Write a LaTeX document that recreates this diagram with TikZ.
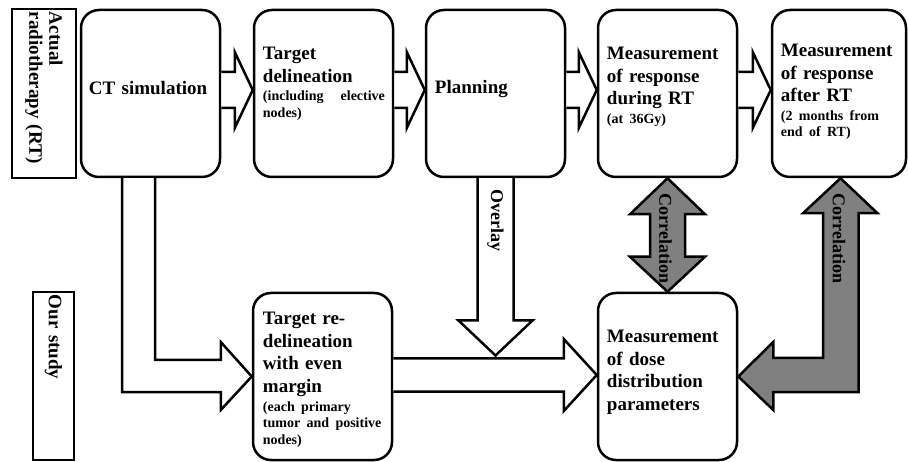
\documentclass[tikz,border=0pt]{standalone}
\usepackage{fontspec}
\setmainfont{Liberation Serif}
\usetikzlibrary{calc}

\newcommand{\notefont}{\par\vspace{2pt}\fontsize{14}{16.5}\selectfont}

\tikzset{
  stage/.style={draw, line width=2.5pt, rounded corners=18pt, minimum width=139pt, minimum height=167pt, inner sep=0pt},
  sidebox/.style={draw, line width=2.5pt, rotate=-90, inner sep=3pt, align=left, font=\bfseries\fontsize{19}{20}\selectfont},
  stagetext/.style={anchor=north west, inner sep=0pt, text width=122pt, align=left, font=\bfseries\fontsize{19}{22.8}\selectfont},
  whitearrow/.style={draw, line width=2.5pt, fill=white, line join=miter},
  grayarrow/.style={whitearrow, fill=gray},
  arrowlabel/.style={rotate=-90, anchor=west, inner sep=0pt, font=\bfseries\fontsize{18}{20}\selectfont}
}

\begin{document}
\begin{tikzpicture}[x=1pt, y=-1pt]
    \useasboundingbox (0,0) rectangle (908,462);

    % Row labels
    \node[sidebox, minimum width=169pt, minimum height=64pt, text width=163pt] (rtlabel) at (44,93.5) {Actual\\radiotherapy (RT)};
    \node[sidebox, minimum width=168pt, minimum height=41pt, text width=162pt] (studylabel) at (53.5,376) {Our study};

    % Stages of the actual radiotherapy
    \node[stage] (ct) at (150.5,93.5) {};
    \node[stage] (td) at (323.5,93.5) {};
    \node[stage] (plan) at (495.5,93.5) {};
    \node[stage] (mdur) at (667.5,93.5) {};
    \node[stage, minimum width=134pt] (maft) at (839,93.5) {};

    % Stages of our study
    \node[stage] (trd) at (322.5,376.5) {};
    \node[stage] (mdose) at (667.5,376.5) {};

    % Texts in the stages
    \node[stagetext] (ct-txt) at ([shift={(9,72)}]ct.north west) {CT simulation};
    \node[stagetext] (td-txt) at ([shift={(10,38)}]td.north west) {Target\\delineation\notefont (including\hfill elective\\nodes)\par};
    \node[stagetext] (plan-txt) at ([shift={(10,71)}]plan.north west) {Planning};
    \node[stagetext] (mdur-txt) at ([shift={(10,38)}]mdur.north west) {Measurement\\of response\\during RT\notefont (at 36Gy)\par};
    \node[stagetext] (maft-txt) at ([shift={(10,35)}]maft.north west) {Measurement\\of response\\after RT\notefont (2 months from\\end of RT)\par};
    \node[stagetext] (trd-txt) at ([shift={(11,20)}]trd.north west) {Target re-\\delineation\\with even\\margin\notefont (each primary\\tumor and positive\\nodes)\par};
    \node[stagetext] (mdose-txt) at ([shift={(10,38)}]mdose.north west) {Measurement\\of dose\\distribution\\parameters};

    % Block arrows along the top row
    \foreach \src/\dst in {ct/td, td/plan, plan/mdur, mdur/maft}
        \draw[whitearrow] ($(\src.east)+(0,-21.5)$) -- ($(\dst.west)+(-18,-21.5)$) -- ($(\dst.west)+(-18,-41.5)$) -- ($(\dst.west)+(0,-3.5)$)
            -- ($(\dst.west)+(-18,34.5)$) -- ($(\dst.west)+(-18,14.5)$) -- ($(\src.east)+(0,14.5)$);

    % CT simulation down to the re-delineation
    \draw[whitearrow] ($(ct.south)+(-28.5,0)$) |- ($(trd.west)+(-31,15.5)$) -- ++(0,18) -- (trd.west) -- ++(-31,-34.5) -- ++(0,18) -| ($(ct.south)+(4.5,0)$);

    % Re-delineation to dose distribution
    \draw[whitearrow] ($(trd.east)+(0,-18)$) -- ($(mdose.west)+(-33,-18)$) -- ++(0,-19.5) -- ($(mdose.west)+(0,-1.5)$)
        -- ($(mdose.west)+(-33,34.5)$) -- ++(0,-19.5) -- ($(trd.east)+(0,15)$);

    % Overlay of the plan
    \coordinate (ovtip) at ($(plan.south |- mdose.west)+(0,-21)$);
    \draw[whitearrow] ($(plan.south)+(-18,0)$) -- ($(ovtip)+(-18,-35)$) -- ++(-19,0) -- (ovtip) -- ++(37,-35) -- ++(-19,0) -- ($(plan.south)+(18,0)$);
    \node[arrowlabel] (overlay) at ($(plan.south)+(0,11)$) {Overlay};

    % Correlations
    \draw[grayarrow] (mdur.south) -- ++(37.5,36) -- ++(-20,0) -- ($(mdose.north)+(17.5,-35)$) -- ++(20,0) -- (mdose.north)
        -- ++(-37.5,-35) -- ++(20,0) -- ($(mdur.south)+(-17.5,36)$) -- ++(-20,0) -- cycle;
    \node[arrowlabel] (corr-dur) at ($(mdur.south)+(-2,15)$) {Correlation};

    \draw[grayarrow] ($(maft.south)+(1.5,0)$) -- ++(37,35) -- ++(-19,0) |- ($(mdose.east)+(35,15.5)$) -- ++(0,18) -- (mdose.east)
        -- ++(35,-34.5) -- ++(0,16) -| ($(maft.south)+(-16,35)$) -- ++(-20,0) -- cycle;
    \node[arrowlabel] (corr-aft) at ($(maft.south)+(0,15)$) {Correlation};
\end{tikzpicture}
\end{document}
